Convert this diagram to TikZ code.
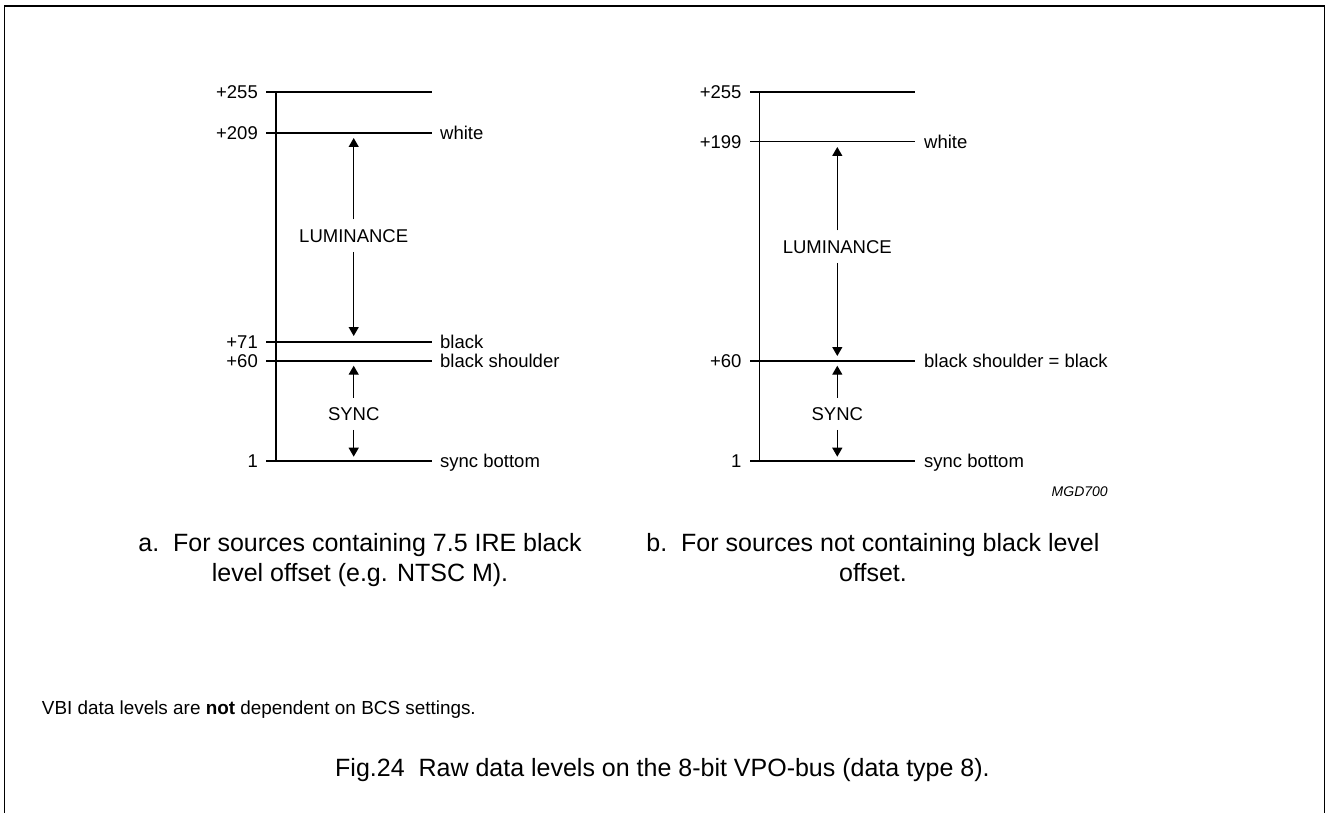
\documentclass[tikz,border=0pt]{standalone}
\usepackage{fontspec}
\setmainfont{Liberation Sans}
\usetikzlibrary{arrows.meta}

\tikzset{
    level/.style = {line width = 1.3pt},
    valtext/.style = {anchor = base east, inner sep = 0pt, yshift = -6.6pt,
        font = \fontsize{18.5}{22}\selectfont},
    nametext/.style = {anchor = base west, inner sep = 0pt, yshift = -6.6pt,
        font = \fontsize{18.5}{22}\selectfont},
    rangetext/.style = {inner sep = 0pt, minimum height = 32pt,
        font = \fontsize{18.5}{22}\selectfont},
    rangearrow/.style = {line width = 1.3pt, -{Triangle[length = 9pt, width = 10pt]}},
    captext/.style = {align = center, inner sep = 0pt,
        font = \fontsize{25}{30}\selectfont},
}

\begin{document}
\begin{tikzpicture}[x = 1pt, y = -1pt]
    \useasboundingbox (0,0) rectangle (1326,813);

    % frame
    \draw [level] (4.5,813) -- (4.5,6) -- (1324.5,6) -- (1324.5,813);

    % a. with black level offset
    \coordinate (aAxisTop) at (276,92);
    \coordinate (aAxisBot) at (276,461);
    \draw [level] (aAxisTop) -- (aAxisBot);

    \node [valtext] (a255) at (258,92) {+255};
    \node [valtext] (a209) at (258,133) {+209};
    \node [valtext] (a71) at (258,342) {+71};
    \node [valtext] (a60) at (258,361) {+60};
    \node [valtext] (a1) at (258,461) {1};

    \node [nametext] (aWhite) at (440,133) {white};
    \node [nametext] (aBlack) at (440,342) {black};
    \node [nametext] (aShoulder) at (440,361) {black shoulder};
    \node [nametext] (aBottom) at (440,461) {sync bottom};

    \draw [level] (266,92) -- (431.7,92);
    \draw [level] (266,133) -- (431.7,133);
    \draw [level] (266,342) -- (431.7,342);
    \draw [level] (266,361) -- (431.7,361);
    \draw [level] (266,461) -- (431.7,461);

    \node [rangetext] (aLum) at (353.7,235.7) {LUMINANCE};
    \coordinate (aLumTop) at (353.7,138);
    \coordinate (aLumBot) at (353.7,336);
    \draw [rangearrow] (aLum) -- (aLumTop);
    \draw [rangearrow] (aLum) -- (aLumBot);

    \node [rangetext] (aSync) at (353.7,413.7) {SYNC};
    \coordinate (aSyncTop) at (353.7,365.7);
    \coordinate (aSyncBot) at (353.7,456.7);
    \draw [rangearrow] (aSync) -- (aSyncTop);
    \draw [rangearrow] (aSync) -- (aSyncBot);

    \node [captext] (aCap) at (360,560)
        {a.~~For sources containing 7.5 IRE black\\level offset (e.g. NTSC M).};

    % b. without black level offset
    \coordinate (bAxisTop) at (759.3,92);
    \coordinate (bAxisBot) at (759.3,461);
    \draw [level] (bAxisTop) -- (bAxisBot);

    \node [valtext] (b255) at (741.7,92) {+255};
    \node [valtext] (b199) at (741.7,141.7) {+199};
    \node [valtext] (b60) at (741.7,361) {+60};
    \node [valtext] (b1) at (741.7,461) {1};

    \node [nametext] (bWhite) at (924,141.7) {white};
    \node [nametext] (bShoulder) at (924,361) {black shoulder = black};
    \node [nametext] (bBottom) at (924,461) {sync bottom};

    \draw [level] (750,92) -- (915,92);
    \draw [level] (750,141.7) -- (915,141.7);
    \draw [level] (750,361) -- (915,361);
    \draw [level] (750,461) -- (915,461);

    \node [rangetext] (bLum) at (837.3,246.7) {LUMINANCE};
    \coordinate (bLumTop) at (837.3,147);
    \coordinate (bLumBot) at (837.3,356);
    \draw [rangearrow] (bLum) -- (bLumTop);
    \draw [rangearrow] (bLum) -- (bLumBot);

    \node [rangetext] (bSync) at (837.3,413.7) {SYNC};
    \coordinate (bSyncTop) at (837.3,365.7);
    \coordinate (bSyncBot) at (837.3,456.7);
    \draw [rangearrow] (bSync) -- (bSyncTop);
    \draw [rangearrow] (bSync) -- (bSyncBot);

    \node [font = \fontsize{14}{16}\selectfont\itshape, inner sep = 0pt]
        (code) at (1079.7,491.7) {MGD700};

    \node [captext] (bCap) at (873,557.4)
        {b.~~For sources not containing black level\\offset.};

    % notes
    \node [anchor = west, inner sep = 0pt, font = \fontsize{18.9}{22}\selectfont]
        (note) at (41.7,709.7) {VBI data levels are \textbf{not} dependent on BCS settings.};
    \node [anchor = west, inner sep = 0pt, font = \fontsize{25}{30}\selectfont]
        (figcap) at (335,769.7) {Fig.24~~Raw data levels on the 8-bit VPO-bus (data type 8).};
\end{tikzpicture}
\end{document}
